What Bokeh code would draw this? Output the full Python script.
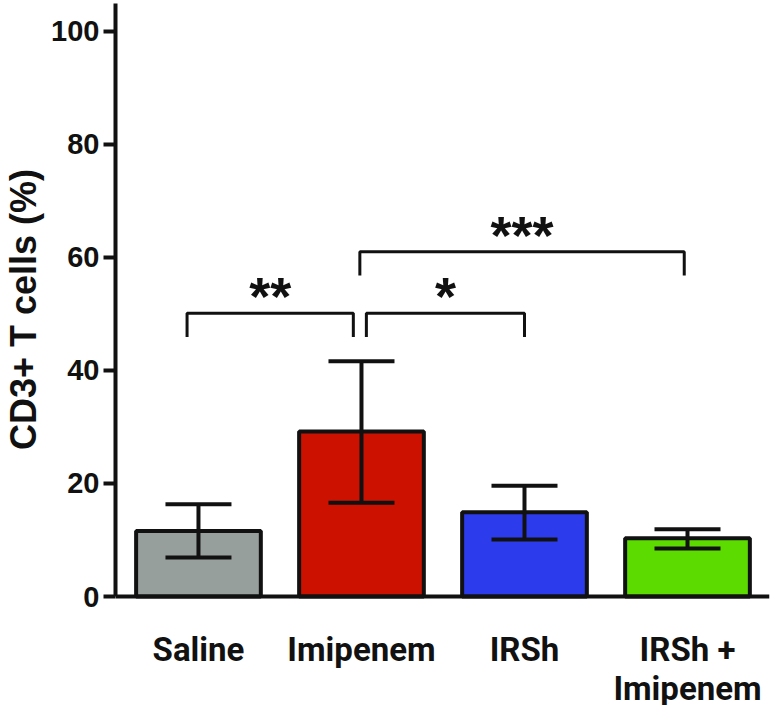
from bokeh.plotting import figure
from bokeh.models import ColumnDataSource, Range1d, FixedTicker, Whisker, TeeHead, Span
from bokeh.core.properties import value
from bokeh.embed import file_html
from bokeh.resources import INLINE

# ---- data ----
groups = ["Saline", "Imipenem", "IRSh", "IRSh + Imipenem"]
group_labels = ["Saline", "Imipenem", "IRSh", "IRSh +\nImipenem"]
means = [11.6, 29.2, 14.9, 10.3]
err_upper = [16.3, 41.6, 19.6, 11.9]
err_lower = [6.9, 16.6, 10.1, 8.5]
colors = ["#969f9c", "#cc1100", "#2c3ced", "#5cdb00"]
y_ticks = [0, 20, 40, 60, 80, 100]
y_title = "CD3+  T cells (%)"

comp_left = ["Saline", "Imipenem", "Imipenem"]
comp_right = ["Imipenem", "IRSh", "IRSh + Imipenem"]
comp_height = [50.1, 50.1, 61.0]
comp_stars = ["**", "*", "***"]

Y_TOP = 104.9
Y_BOTTOM = -19.28

# ---- figure ----
p = figure(width=773, height=705, output_backend="svg", toolbar_location=None,
           x_range=Range1d(-0.509, 3.503), y_range=Range1d(Y_BOTTOM, Y_TOP),
           x_axis_location=None,
           min_border_left=115, min_border_right=4, min_border_top=3,
           min_border_bottom=0)
p.outline_line_color = None
p.xgrid.visible = False
p.ygrid.visible = False
p.background_fill_color = "white"

idx = list(range(len(groups)))
src = ColumnDataSource(dict(x=idx, top=means, upper=err_upper, lower=err_lower,
                            color=colors, label=group_labels))

p.vbar(x="x", top="top", bottom=0, width=0.765, source=src, fill_color="color",
       line_color="#111111", line_width=4)

wh = Whisker(base="x", upper="upper", lower="lower", source=src, dimension="height",
             line_color="#111111", line_width=4, level="overlay",
             upper_head=TeeHead(size=66, line_width=4, line_color="#111111"),
             lower_head=TeeHead(size=66, line_width=4, line_color="#111111"))
p.add_layout(wh)

# x axis line at zero
p.add_layout(Span(location=0, dimension="width", line_color="#111111", line_width=4))

# category labels under the axis
p.text(x="x", y=0, text="label", source=src, y_offset=33,
       text_align="center", text_baseline="top",
       text_font=value("Roboto"), text_font_style="bold",
       text_font_size="33px", text_line_height=1.0, text_color="#111111")

# significance brackets
left_nudge = [-0.07, 0.03, -0.01]
right_nudge = [-0.05, 0.0, -0.02]
drop = 4.2
xs, ys, sx, sy = [], [], [], []
for i in range(len(comp_stars)):
    xl = groups.index(comp_left[i]) + left_nudge[i]
    xr = groups.index(comp_right[i]) + right_nudge[i]
    h = comp_height[i]
    xs.append([xl, xl, xr, xr])
    ys.append([h - drop, h, h, h - drop])
    sx.append((xl + xr) / 2)
    sy.append(h + 3.0)
p.multi_line(xs=xs, ys=ys, line_color="#111111", line_width=3)
p.text(x=sx, y=sy, text=comp_stars, text_align="center", text_baseline="alphabetic",
       text_font=value("Liberation Sans"), text_font_style="bold",
       text_font_size="54px", text_color="#111111")

# y axis
ya = p.yaxis[0]
ya.bounds = (0, Y_TOP)
ya.ticker = FixedTicker(ticks=y_ticks)
ya.axis_line_width = 4
ya.axis_line_color = "#111111"
ya.major_tick_line_width = 4
ya.major_tick_line_color = "#111111"
ya.major_tick_out = 12
ya.major_tick_in = 0
ya.minor_tick_out = 0
ya.minor_tick_in = 0
ya.major_label_standoff = 4
ya.major_label_text_font = "Liberation Sans"
ya.major_label_text_font_style = "bold"
ya.major_label_text_font_size = "29px"
ya.major_label_text_color = "#111111"
# leading no-break spaces lift the title so it centres on the 0-105 axis, not the frame
ya.axis_label = "\u00a0" * 10 + y_title
ya.axis_label_text_font = "Liberation Sans"
ya.axis_label_text_font_style = "bold"
ya.axis_label_text_font_size = "36px"
ya.axis_label_text_color = "#111111"
ya.axis_label_standoff = 4

open("out.html", "w").write(file_html(p, INLINE))
